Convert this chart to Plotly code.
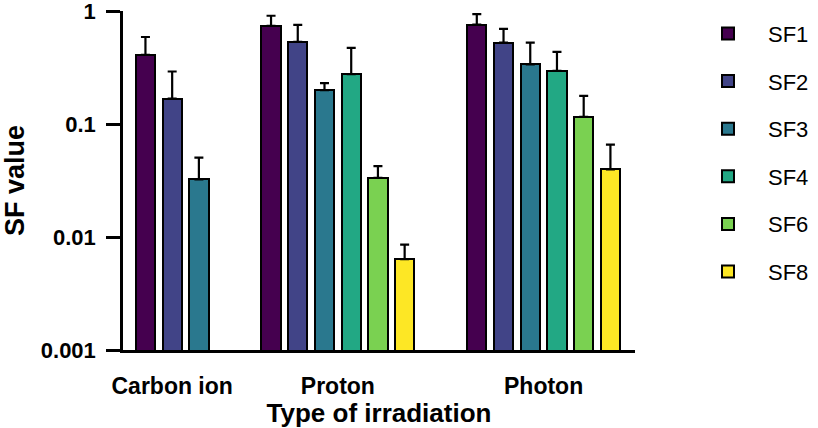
import plotly.graph_objects as go

# ---------------- data ----------------
categories = ["Carbon ion", "Proton", "Photon"]
series_names = ["SF1", "SF2", "SF3", "SF4", "SF6", "SF8"]

sf1 = [0.41, 0.74, 0.76]
sf1_err = [0.18, 0.17, 0.18]
sf2 = [0.168, 0.535, 0.525]
sf2_err = [0.124, 0.22, 0.17]
sf3 = [0.0324, 0.20, 0.337]
sf3_err = [0.018, 0.03, 0.19]
sf4 = [None, 0.277, 0.296]
sf4_err = [None, 0.196, 0.14]
sf6 = [None, 0.0335, 0.116]
sf6_err = [None, 0.009, 0.062]
sf8 = [None, 0.00638, 0.0397]
sf8_err = [None, 0.0022, 0.026]

y_tick_vals = [0.001, 0.01, 0.1, 1]
y_tick_text = ["0.001", "0.01", "0.1", "1"]

colors = ["#45004f", "#414487", "#2a788e", "#22a884", "#7ad151", "#fde725"]

values = [sf1, sf2, sf3, sf4, sf6, sf8]
errors = [sf1_err, sf2_err, sf3_err, sf4_err, sf6_err, sf8_err]

# ------------- slot layout (bars packed per category) -------------
group_gap = 2.7
slot = {}
centers = []
cursor = 0.0
for ci in range(len(categories)):
    present = [si for si in range(len(series_names)) if values[si][ci] is not None]
    xs = []
    for si in present:
        slot[(si, ci)] = cursor
        xs.append(cursor)
        cursor += 1
    centers.append(sum(xs) / len(xs))
    cursor += group_gap - 1

FONT = "Arial, 'Liberation Sans', sans-serif"

fig = go.Figure()
for si, name in enumerate(series_names):
    xs, ys, es = [], [], []
    for ci in range(len(categories)):
        if values[si][ci] is None:
            continue
        xs.append(slot[(si, ci)])
        ys.append(values[si][ci])
        es.append(errors[si][ci])
    fig.add_trace(go.Bar(
        x=xs, y=ys, name=name, width=0.72,
        legendgroup=name,
        marker=dict(color=colors[si], line=dict(color="black", width=2)),
        error_y=dict(type="data", array=es, arrayminus=[0] * len(es), symmetric=False,
                     color="black", thickness=2.2, width=4.5),
    ))

fig.update_layout(
    width=818, height=428,
    margin=dict(l=123, r=183, t=11, b=78, autoexpand=False),
    paper_bgcolor="white", plot_bgcolor="white",
    font=dict(family=FONT, color="black"),
    showlegend=True,
    bargap=0,
    legend=dict(
        x=1.1035, y=0.995, xanchor="left", yanchor="top",
        font=dict(size=22, family=FONT, color="black"),
        traceorder="grouped", tracegroupgap=16,
        itemwidth=70,
        bgcolor="rgba(0,0,0,0)",
    ),
    xaxis=dict(
        range=[-0.84, 18.32],
        tickvals=centers, ticktext=categories,
        showline=True, linecolor="black", linewidth=2.5,
        ticks="", showgrid=False, zeroline=False,
        tickfont=dict(size=23, family=FONT, weight="bold"),
        ticklabelstandoff=14,
        automargin=False,
        title=dict(text="Type of irradiation", font=dict(size=26, family=FONT, weight="bold"),
                   standoff=0),
    ),
    yaxis=dict(
        type="log", range=[-3, 0.001],
        tickvals=y_tick_vals, ticktext=y_tick_text,
        showline=True, linecolor="black", linewidth=2.5,
        ticks="outside", ticklen=14, tickwidth=2.5, tickcolor="black",
        showgrid=False, zeroline=False,
        tickfont=dict(size=22, family=FONT, weight="bold"),
        ticklabelstandoff=6,
        ticklabeloverflow="allow",
        automargin=False,
        title=dict(text="SF value", font=dict(size=27, family=FONT, weight="bold"),
                   standoff=10),
    ),
)

fig.write_html("out.html",
               config={"displayModeBar": False},
               post_script="document.body.style.margin='0';document.body.style.overflow='hidden';")
